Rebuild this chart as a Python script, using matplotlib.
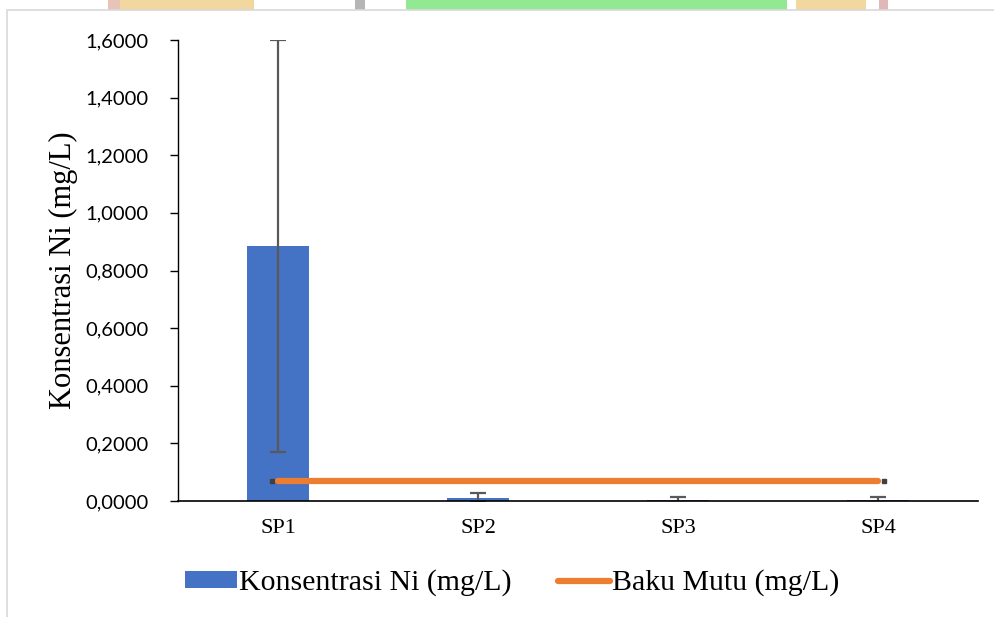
import matplotlib
matplotlib.use("Agg")
import matplotlib.pyplot as plt
from matplotlib.patches import Rectangle
import numpy as np

categories = ["SP1", "SP2", "SP3", "SP4"]
konsentrasi = [0.885, 0.012, 0.003, 0.003]
err = [0.715, 0.015, 0.011, 0.011]
baku_mutu = [0.07, 0.07, 0.07, 0.07]
yticks = [0.0, 0.2, 0.4, 0.6, 0.8, 1.0, 1.2, 1.4, 1.6]
ytick_labels = ["0,0000", "0,2000", "0,4000", "0,6000", "0,8000",
                "1,0000", "1,2000", "1,4000", "1,6000"]

blue = "#4472C4"
orange = "#ED7D31"

fig = plt.figure(figsize=(9.95, 6.17), dpi=100)

# watermark strip at top and chart border
W, H = 995, 617
def frect(x0, y0, x1, y1, **kw):
    fig.patches.append(Rectangle((x0 / W, 1 - y1 / H), (x1 - x0) / W, (y1 - y0) / H,
                                 transform=fig.transFigure, **kw))
frect(108, 0, 120, 10, color="#E8C3B8", lw=0)
frect(120, 0, 254, 10, color="#F2D79F", lw=0)
frect(355, 0, 365, 10, color="#B5B5B5", lw=0)
frect(406, 0, 787, 10, color="#93E892", lw=0)
frect(796, 0, 866, 10, color="#F2D79F", lw=0)
frect(879, 0, 888, 10, color="#E0B8B8", lw=0)
frect(7, 10, 1000, 620, fill=False, ec="#D9D9D9", lw=1.2)

ax = fig.add_axes([178 / W, 1 - 501 / H, 800 / W, 461 / H])
x = np.arange(len(categories))
bars = ax.bar(x, konsentrasi, width=0.31, color=blue, label="Konsentrasi Ni (mg/L)",
              yerr=err, error_kw=dict(ecolor="#595959", elinewidth=1.6, capsize=6, capthick=1.6),
              zorder=2)
line, = ax.plot(x, baku_mutu, color=orange, lw=4.5, solid_capstyle="round",
                label="Baku Mutu (mg/L)", zorder=3)
ax.plot([x[0] - 0.03, x[-1] + 0.03], [baku_mutu[0], baku_mutu[-1]], ls="none",
        marker="s", ms=2.5, color="#404040", zorder=2)

ax.set_xlim(-0.5, len(categories) - 0.5)
ax.set_ylim(0, 1.6)
ax.set_yticks(yticks)
ax.set_yticklabels(ytick_labels, fontfamily="Lato", fontsize=14.5)
ax.set_xticks(x)
ax.set_xticklabels(categories, fontfamily="Liberation Serif", fontsize=16)
ax.tick_params(axis="x", length=0, pad=13)
ax.tick_params(axis="y", length=6, width=1, pad=15.5, color="black")
for s in ["top", "right"]:
    ax.spines[s].set_visible(False)
ax.spines["left"].set_linewidth(1)
ax.spines["bottom"].set_linewidth(1.2)
ax.set_ylabel("Konsentrasi Ni (mg/L)", fontfamily="Liberation Serif", fontsize=22, labelpad=5)

leg = fig.legend([bars, line], ["Konsentrasi Ni (mg/L)", "Baku Mutu (mg/L)"],
                 loc="center", bbox_to_anchor=(512 / W, 1 - 583 / H), ncol=2,
                 frameon=False, prop=dict(family="Liberation Serif", size=21.5),
                 handlelength=1.75, handleheight=0.5, handletextpad=0.05, columnspacing=1.55)

fig.savefig("out.png", dpi=100)
